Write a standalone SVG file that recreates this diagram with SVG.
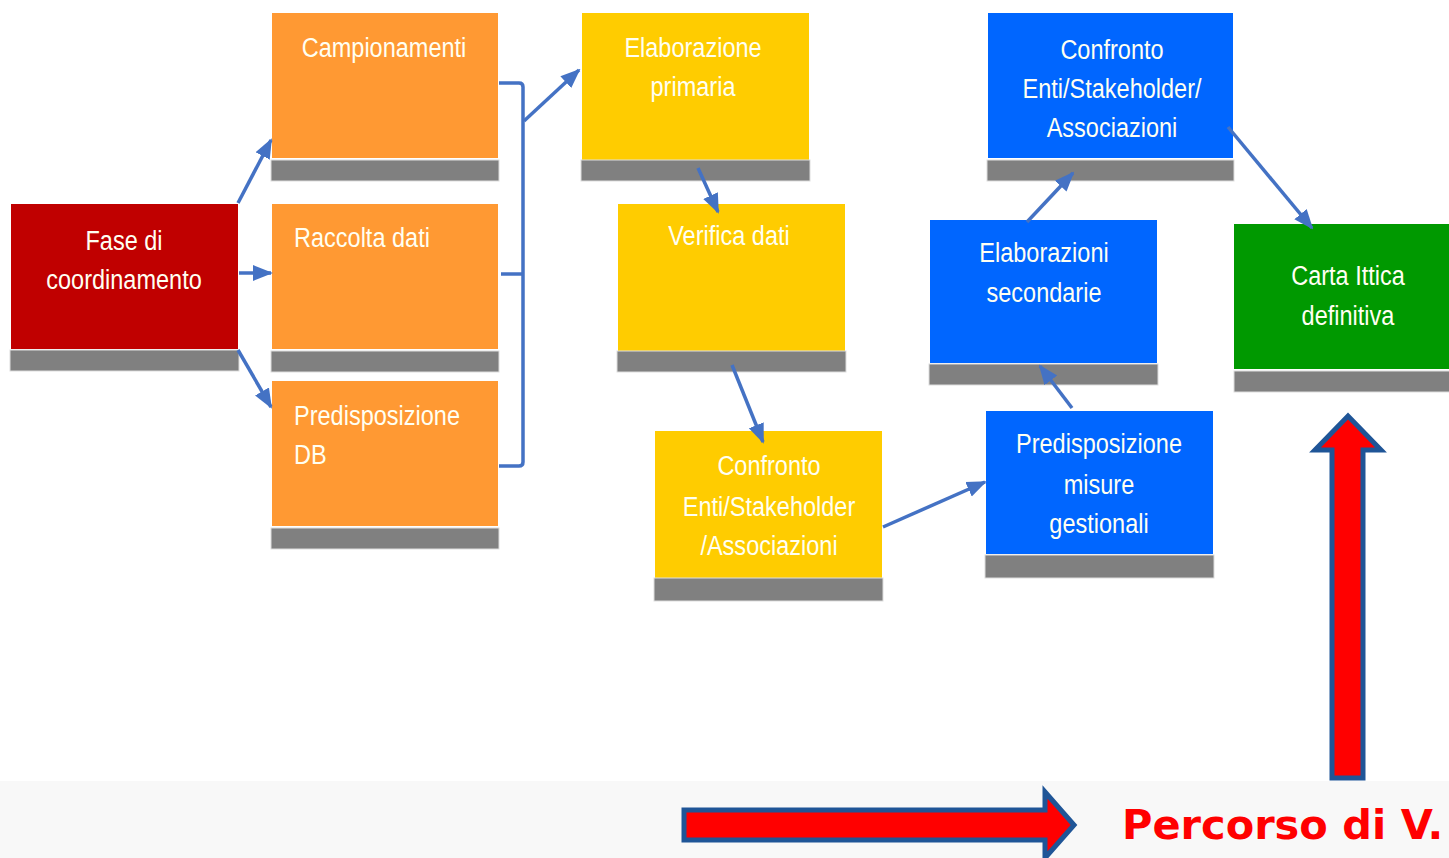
<svg xmlns="http://www.w3.org/2000/svg" width="1449" height="858" viewBox="0 0 1449 858">
<style>
.lbl{font-family:"Liberation Sans",Arial,sans-serif;font-size:28px;fill:#FFFFF2;text-anchor:middle}
.lft{text-anchor:start}
.bar{fill:#808080;stroke:#dddddd;stroke-width:1}
.red{fill:#C00000}
.org{fill:#FF9933}
.yel{fill:#FFCC00}
.blu{fill:#0066FF}
.grn{fill:#009900}
.con{stroke:#4472C4;stroke-width:3.5;fill:none}
.big{fill:#FF0000;stroke:#1F5597;stroke-width:5}
</style>
<defs>
<marker id="ah" markerUnits="userSpaceOnUse" markerWidth="20" markerHeight="20" viewBox="0 0 20 20" refX="18" refY="10" orient="auto">
<path d="M0,2 L20,10 L0,18 Z" fill="#4472C4"/>
</marker>
</defs>
<rect x="0" y="0" width="1449" height="858" fill="#ffffff"/>
<rect x="0" y="781" width="1449" height="77" fill="#F8F8F8"/>

<g id="fase">
<rect class="red" x="11" y="204" width="227" height="145"/>
<rect class="bar" x="10" y="350" width="229" height="21"/>
<text class="lbl" transform="translate(124,250) scale(0.84,1)">Fase di</text>
<text class="lbl" transform="translate(124,289) scale(0.84,1)">coordinamento</text>
</g>
<g id="campionamenti">
<rect class="org" x="272" y="13" width="226" height="145"/>
<rect class="bar" x="271" y="160" width="228" height="21"/>
<text class="lbl" transform="translate(384,57) scale(0.84,1)">Campionamenti</text>
</g>
<g id="raccolta">
<rect class="org" x="272" y="204" width="226" height="145"/>
<rect class="bar" x="271" y="351" width="228" height="21"/>
<text class="lbl lft" transform="translate(294,247) scale(0.84,1)">Raccolta dati</text>
</g>
<g id="predisposizione-db">
<rect class="org" x="272" y="381" width="226" height="145"/>
<rect class="bar" x="271" y="528" width="228" height="21"/>
<text class="lbl lft" transform="translate(294,425) scale(0.84,1)">Predisposizione</text>
<text class="lbl lft" transform="translate(294,464) scale(0.84,1)">DB</text>
</g>
<g id="elaborazione-primaria">
<rect class="yel" x="582" y="13" width="227" height="147"/>
<rect class="bar" x="581" y="160" width="229" height="21"/>
<text class="lbl" transform="translate(693,57) scale(0.84,1)">Elaborazione</text>
<text class="lbl" transform="translate(693,96) scale(0.84,1)">primaria</text>
</g>
<g id="verifica-dati">
<rect class="yel" x="618" y="204" width="227" height="147"/>
<rect class="bar" x="617" y="351" width="229" height="21"/>
<text class="lbl" transform="translate(729,245) scale(0.84,1)">Verifica dati</text>
</g>
<g id="confronto-1">
<rect class="yel" x="655" y="431" width="227" height="147"/>
<rect class="bar" x="654" y="578" width="229" height="23"/>
<text class="lbl" transform="translate(769,475) scale(0.84,1)">Confronto</text>
<text class="lbl" transform="translate(769,516) scale(0.84,1)">Enti/Stakeholder</text>
<text class="lbl" transform="translate(769,555) scale(0.84,1)">/Associazioni</text>
</g>
<g id="predisposizione-misure">
<rect class="blu" x="986" y="411" width="227" height="143"/>
<rect class="bar" x="985" y="555" width="229" height="23"/>
<text class="lbl" transform="translate(1099,453) scale(0.84,1)">Predisposizione</text>
<text class="lbl" transform="translate(1099,494) scale(0.84,1)">misure</text>
<text class="lbl" transform="translate(1099,533) scale(0.84,1)">gestionali</text>
</g>
<g id="elaborazioni-secondarie">
<rect class="blu" x="930" y="220" width="227" height="143"/>
<rect class="bar" x="929" y="364" width="229" height="21"/>
<text class="lbl" transform="translate(1044,262) scale(0.84,1)">Elaborazioni</text>
<text class="lbl" transform="translate(1044,302) scale(0.84,1)">secondarie</text>
</g>
<g id="confronto-2">
<rect class="blu" x="988" y="13" width="245" height="145"/>
<rect class="bar" x="987" y="160" width="247" height="21"/>
<text class="lbl" transform="translate(1112,59) scale(0.84,1)">Confronto</text>
<text class="lbl" transform="translate(1112,98) scale(0.84,1)">Enti/Stakeholder/</text>
<text class="lbl" transform="translate(1112,137) scale(0.84,1)">Associazioni</text>
</g>
<g id="carta-ittica">
<rect class="grn" x="1234" y="224" width="216" height="145"/>
<rect class="bar" x="1234" y="371" width="216" height="21"/>
<text class="lbl" transform="translate(1348,285) scale(0.84,1)">Carta Ittica</text>
<text class="lbl" transform="translate(1348,325) scale(0.84,1)">definitiva</text>
</g>

<g id="connectors">
<path class="con" d="M238,203 L271,140" marker-end="url(#ah)"/>
<path class="con" d="M239,273 L271,273" marker-end="url(#ah)"/>
<path class="con" d="M238,350 L271,407" marker-end="url(#ah)"/>
<path class="con" d="M499,83 L519,83 Q523,83 523,87 L523,462 Q523,466 519,466 L499,466"/>
<path class="con" d="M501,274 L523,274"/>
<path class="con" d="M524,121 L579,70" marker-end="url(#ah)"/>
<path class="con" d="M698,168 L718,212" marker-end="url(#ah)"/>
<path class="con" d="M732,365 L763,442" marker-end="url(#ah)"/>
<path class="con" d="M883,527 L985,482" marker-end="url(#ah)"/>
<path class="con" d="M1072,408 L1040,366" marker-end="url(#ah)"/>
<path class="con" d="M1027,222 L1073,173" marker-end="url(#ah)"/>
<path class="con" d="M1228,127 L1312,228" marker-end="url(#ah)"/>
</g>

<g id="freccia-orizzontale">
<polygon class="big" points="684,810 1045,810 1045,792 1074,825 1045,858 1045,840 684,840"/>
</g>
<g id="freccia-verticale">
<polygon class="big" points="1332,778 1332,450 1315,450 1348,416 1381,450 1363,450 1363,778"/>
</g>
<text x="1122" y="839" font-family="'DejaVu Sans','Verdana',sans-serif" font-weight="bold" font-size="41.5" fill="#FF0000">Percorso di V.</text>
</svg>
